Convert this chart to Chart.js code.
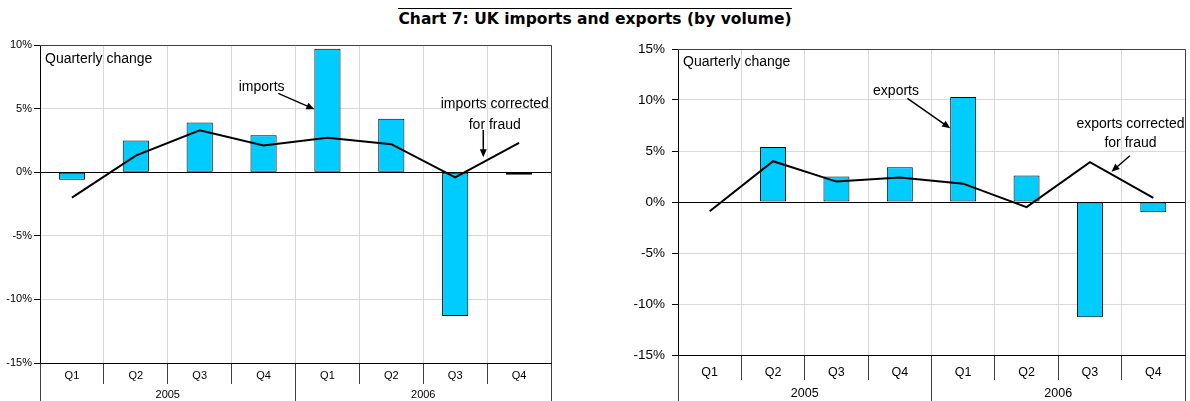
<!DOCTYPE html>
<html>
<head>
<meta charset="utf-8">
<script src="https://cdn.jsdelivr.net/npm/chart.js@4.4.0/dist/chart.umd.min.js"></script>
<style>
  html, body { margin: 0; padding: 0; background: #fff; }
  body { width: 1190px; height: 401px; position: relative; overflow: hidden; }
  #title {
    position: absolute; left: 0; top: 10px; width: 1190px;
    text-align: center; font: bold 15.5px "DejaVu Sans"; line-height: 18px; color: #000;
  }
  #title span { border-top: 1px solid #000; padding-top: 1px; }
  canvas { position: absolute; top: 0; }
  #impChart { left: 0; }
  #expChart { left: 600px; }
</style>
</head>
<body>
<div id="title"><span>Chart 7: UK imports and exports (by volume)</span></div>
<canvas id="impChart" width="560" height="401"></canvas>
<canvas id="expChart" width="590" height="401"></canvas>
<script>
// Quarterly change, %
const quarters = ['Q1', 'Q2', 'Q3', 'Q4', 'Q1', 'Q2', 'Q3', 'Q4'];
const years = ['2005', '2006'];
const importsValues = [-0.6, 2.5, 3.9, 2.9, 9.7, 4.2, -11.3, -0.2];
const importsCorrected = [-2.0, 1.3, 3.3, 2.1, 2.7, 2.2, -0.4, 2.3];
const exportsValues = [0, 5.4, 2.5, 3.4, 10.3, 2.6, -11.3, -1.0];
const exportsCorrected = [-0.9, 4.0, 2.0, 2.4, 1.8, -0.5, 3.9, 0.4];
const importsTicks = [-15, -10, -5, 0, 5, 10];
const exportsTicks = [-15, -10, -5, 0, 5, 10, 15];

const FONT = '"Liberation Sans", Arial, sans-serif';
const BAR_COLOR = '#00ccff';
const GRID_COLOR = '#d9d9d9';
const FRAME_COLOR = '#404040';

/**
 * Frame, zero line, notes and arrows
 */
const notesPlugin = {
    id: 'notes',
    beforeDatasetsDraw(chart) {
        const ctx = chart.ctx;
        const a = chart.chartArea;
        const y0 = Math.round(chart.scales.y.getPixelForValue(0)) + 0.5;
        ctx.save();
        ctx.lineWidth = 1;
        ctx.strokeStyle = FRAME_COLOR;
        ctx.beginPath();
        ctx.moveTo(a.left, Math.round(a.top) + 0.5);
        ctx.lineTo(Math.round(a.right) + 0.5, Math.round(a.top) + 0.5);
        ctx.lineTo(Math.round(a.right) + 0.5, a.bottom);
        ctx.stroke();
        ctx.strokeStyle = '#000';
        ctx.beginPath();
        ctx.moveTo(a.left, y0);
        ctx.lineTo(a.right, y0);
        ctx.stroke();
        ctx.restore();
    },
    afterDraw(chart, args, opts) {
        const ctx = chart.ctx;
        const a = chart.chartArea;
        const xs = chart.scales.x;
        const ys = chart.scales.y;
        ctx.save();
        ctx.fillStyle = '#000';
        ctx.font = '14px ' + FONT;
        ctx.textBaseline = 'middle';

        // corner label
        ctx.textAlign = 'left';
        ctx.fillText(opts.corner, a.left + 5, a.top + opts.cornerDy);

        // notes placed in data coordinates (category index, value)
        ctx.textAlign = 'center';
        (opts.texts || []).forEach(function(t) {
            ctx.fillText(t.text, xs.getPixelForValue(t.x), ys.getPixelForValue(t.y));
        });

        ctx.strokeStyle = '#000';
        ctx.lineWidth = 1.5;
        (opts.arrows || []).forEach(function(ar) {
            const x1 = xs.getPixelForValue(ar.from[0]), y1 = ys.getPixelForValue(ar.from[1]);
            const x2 = xs.getPixelForValue(ar.to[0]), y2 = ys.getPixelForValue(ar.to[1]);
            const ang = Math.atan2(y2 - y1, x2 - x1);
            const len = 8, half = 3.5;
            ctx.beginPath();
            ctx.moveTo(x1, y1);
            ctx.lineTo(x2 - Math.cos(ang) * len * 0.8, y2 - Math.sin(ang) * len * 0.8);
            ctx.stroke();
            ctx.beginPath();
            ctx.moveTo(x2, y2);
            ctx.lineTo(x2 - Math.cos(ang) * len - Math.sin(ang) * half, y2 - Math.sin(ang) * len + Math.cos(ang) * half);
            ctx.lineTo(x2 - Math.cos(ang) * len + Math.sin(ang) * half, y2 - Math.sin(ang) * len - Math.cos(ang) * half);
            ctx.closePath();
            ctx.fill();
        });
        ctx.restore();
    }
};

function makeChart(canvasId, s) {
    return new Chart(document.getElementById(canvasId), {
        type: 'bar',
        data: {
            labels: quarters,
            datasets: [{
                type: 'line',
                label: s.lineLabel,
                data: s.line,
                borderColor: '#000',
                borderWidth: 2,
                pointRadius: 0,
                tension: 0,
                order: 0
            }, {
                label: s.barLabel,
                data: s.bars,
                backgroundColor: BAR_COLOR,
                borderColor: '#000',
                borderWidth: 1,
                borderSkipped: false,
                barPercentage: 0.41,
                categoryPercentage: 1,
                order: 1
            }]
        },
        options: {
            responsive: false,
            animation: false,
            events: [],
            layout: { padding: { top: s.top, right: s.padRight, bottom: 0, left: 0 } },
            plugins: {
                legend: { display: false },
                tooltip: { enabled: false },
                notes: s.notes
            },
            scales: {
                y: {
                    min: s.ticks[0],
                    max: s.ticks[s.ticks.length - 1],
                    afterBuildTicks: function(scale) {
                        scale.ticks = s.ticks.map(function(v) { return { value: v }; });
                    },
                    afterFit: function(scale) { scale.width = s.yWidth; },
                    ticks: {
                        callback: function(v) { return v + '%'; },
                        font: { family: FONT, size: s.yFont },
                        color: '#000',
                        padding: s.yPad
                    },
                    grid: {
                        color: function(c) { return c.tick && c.tick.value === 0 ? '#000' : GRID_COLOR; },
                        tickColor: '#000',
                        tickLength: 6
                    },
                    border: { color: '#000' }
                },
                x: {
                    offset: true,
                    weight: 0,
                    afterFit: function(scale) { scale.height = s.qTick; },
                    grid: { offset: true, color: GRID_COLOR, tickColor: FRAME_COLOR, tickLength: s.qTick },
                    border: { color: '#000' },
                    ticks: {
                        font: { family: FONT, size: s.xFont },
                        color: '#000',
                        padding: s.qPad,
                        maxRotation: 0,
                        autoSkip: false
                    }
                },
                x2: {
                    type: 'category',
                    labels: years,
                    position: 'bottom',
                    offset: true,
                    weight: 1,
                    afterFit: function(scale) { scale.height = s.yearTick; },
                    grid: { offset: true, drawOnChartArea: false, tickColor: FRAME_COLOR, tickLength: s.yearTick },
                    border: { display: false },
                    ticks: {
                        font: { family: FONT, size: s.xFont },
                        color: '#000',
                        padding: s.yearPad,
                        maxRotation: 0
                    }
                }
            }
        },
        plugins: [notesPlugin]
    });
}

makeChart('impChart', {
    bars: importsValues,
    line: importsCorrected,
    barLabel: 'imports',
    lineLabel: 'imports corrected for fraud',
    ticks: importsTicks,
    top: 45, padRight: 9, yWidth: 40,
    yFont: 11, yPad: 2, xFont: 11,
    qTick: 21, qPad: -14.5, yearTick: 17, yearPad: -12.5,
    notes: {
        corner: 'Quarterly change', cornerDy: 14,
        texts: [
            { text: 'imports', x: 2.97, y: 6.72 },
            { text: 'imports corrected', x: 6.62, y: 5.34 },
            { text: 'for fraud', x: 6.62, y: 3.71 }
        ],
        arrows: [
            { from: [3.23, 6.2], to: [3.795, 4.95] },
            { from: [6.44, 3.32], to: [6.44, 1.17] }
        ]
    }
});

makeChart('expChart', {
    bars: exportsValues,
    line: exportsCorrected,
    barLabel: 'exports',
    lineLabel: 'exports corrected for fraud',
    ticks: exportsTicks,
    top: 49, padRight: 5, yWidth: 78,
    yFont: 13.5, yPad: 7, xFont: 12.5,
    qTick: 25, qPad: -15, yearTick: 21, yearPad: -15,
    notes: {
        corner: 'Quarterly change', cornerDy: 13,
        texts: [
            { text: 'exports', x: 2.94, y: 10.88 },
            { text: 'exports corrected', x: 6.64, y: 7.62 },
            { text: 'for fraud', x: 6.64, y: 5.75 }
        ],
        arrows: [
            { from: [3.12, 10.17], to: [3.795, 7.23] },
            { from: [6.63, 4.54], to: [6.34, 2.97] }
        ]
    }
});
</script>
</body>
</html>
